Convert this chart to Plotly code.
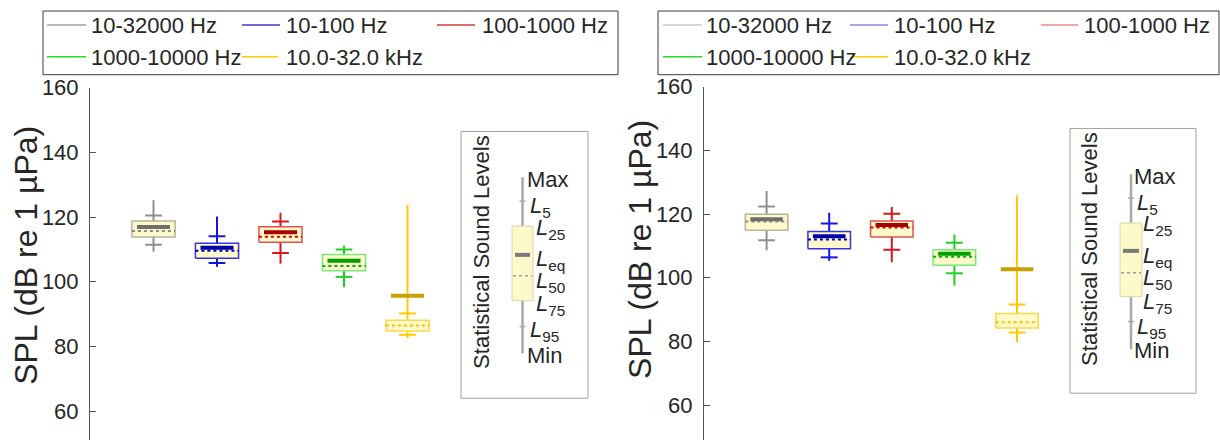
import plotly.graph_objects as go

W, H = 1220, 440

bands = ["10-32000 Hz", "10-100 Hz", "100-1000 Hz", "1000-10000 Hz", "10.0-32.0 kHz"]
positions = [1, 2, 3, 4, 5]

# Statistical sound levels per band (dB re 1 µPa), left panel
left_max = [125.2, 120.2, 121.3, 111.1, 123.9]
left_l5 = [120.5, 114.1, 118.6, 110.0, 90.2]
left_l25 = [118.8, 111.9, 117.0, 108.4, 88.1]
left_leq = [116.9, 110.5, 115.3, 106.5, 95.7]
left_l50 = [115.7, 109.6, 113.9, 104.9, 86.5]
left_l75 = [113.8, 107.3, 112.2, 103.4, 84.8]
left_l95 = [111.4, 105.8, 108.9, 101.5, 83.6]
left_min = [109.3, 104.6, 105.6, 98.3, 82.6]

# Right panel
right_max = [127.2, 120.4, 122.2, 113.6, 125.9]
right_l5 = [122.4, 117.0, 120.1, 111.0, 91.6]
right_l25 = [119.9, 114.5, 117.8, 108.8, 88.8]
right_leq = [118.4, 113.0, 116.6, 107.5, 102.7]
right_l50 = [117.7, 112.0, 115.8, 106.6, 86.0]
right_l75 = [114.9, 109.1, 112.8, 103.9, 84.2]
right_l95 = [111.8, 106.4, 108.8, 101.4, 82.8]
right_min = [108.6, 105.3, 104.9, 97.5, 79.8]

y_ticks = [60, 80, 100, 120, 140, 160]

# styling per band
edge_col = ["#b4b4a0", "#3535e6", "#e65050", "#7ae87a", "#ffd54a"]
whisk_col = ["#8f8f8f", "#1515e0", "#d81818", "#22cc22", "#ffc800"]
leq_col = ["#6e6e6e", "#0000a8", "#a80000", "#00a000", "#c9a000"]
med_col = ["#8a8a8a", "#0000c8", "#d00000", "#00b400", "#f2c200"]
leg_left_col = ["#a0a0a0", "#3a3ad0", "#d03a3a", "#22dd22", "#ffcc00"]
leg_right_col = ["#c8c8c8", "#8888e6", "#e68888", "#22dd22", "#ffcc00"]
box_fill = "#fdf9c8"
FONT = "Liberation Sans, Arial, Helvetica, sans-serif"
TXT = "#262626"

BOX_HW = 0.34
LEQ_HW = 0.26

# pixel -> paper helpers (paper space spans TOP_INSET..H vertically)
TOP_INSET = 10


def px(x):
    return x / W


def py(y):
    return (H - y) / (H - TOP_INSET)


fig = go.Figure()


def add_panel(xa, ya, vmax, v5, v25, veq, v50, v75, v95, vmin):
    for i, p in enumerate(positions):
        common = dict(xaxis=xa, yaxis=ya, showlegend=False, hoverinfo="skip")
        fig.add_trace(go.Scatter(x=[p, p], y=[vmin[i], vmax[i]], mode="lines",
                                 line=dict(color=whisk_col[i], width=2), **common))
        fig.add_trace(go.Scatter(
            x=[p - BOX_HW, p + BOX_HW, p + BOX_HW, p - BOX_HW, p - BOX_HW],
            y=[v75[i], v75[i], v25[i], v25[i], v75[i]],
            mode="lines", fill="toself", fillcolor=box_fill,
            line=dict(color=edge_col[i], width=1.5), **common))
        fig.add_trace(go.Scatter(x=[p - BOX_HW, p + BOX_HW], y=[v50[i], v50[i]], mode="lines",
                                 line=dict(color=med_col[i], width=2, dash="dot"), **common))
        fig.add_trace(go.Scatter(x=[p - LEQ_HW, p + LEQ_HW], y=[veq[i], veq[i]], mode="lines",
                                 line=dict(color=leq_col[i], width=4), **common))
        fig.add_trace(go.Scatter(x=[p, p], y=[v5[i], v95[i]], mode="markers",
                                 marker=dict(symbol="line-ew", size=12,
                                             line=dict(color=whisk_col[i], width=2)),
                                 **common))


add_panel("x", "y", left_max, left_l5, left_l25, left_leq, left_l50, left_l75, left_l95, left_min)
add_panel("x2", "y2", right_max, right_l5, right_l25, right_leq, right_l50, right_l75, right_l95, right_min)

axis_common = dict(showgrid=False, zeroline=False)
yax_common = dict(showgrid=False, zeroline=False, showline=True, linecolor="#555555", linewidth=1,
                  ticks="inside", ticklen=6, tickcolor="#555555", tickvals=y_ticks,
                  tickfont=dict(family=FONT, size=22, color=TXT), ticklabelstandoff=6)

fig.update_layout(
    width=W, height=H,
    margin=dict(l=0, r=0, t=0, b=0),
    paper_bgcolor="white", plot_bgcolor="white",
    showlegend=False,
    xaxis=dict(domain=[px(90), px(600)], range=[0, 510 / 63.5], visible=False, **axis_common),
    yaxis=dict(domain=[0, py(86)], range=[160 - 354 / 3.25, 160], anchor="x", **yax_common),
    xaxis2=dict(domain=[px(704), px(1220)], range=[0, 516 / 62.6], visible=False, anchor="y2",
                **axis_common),
    yaxis2=dict(domain=[0, py(85)], range=[160 - 355 / 3.2, 160], anchor="x2", **yax_common),
)

shapes = []
annotations = []

# y-axis titles
for xc, yc in [(26, 255), (640, 249)]:
    annotations.append(dict(xref="paper", yref="paper", x=px(xc), y=py(yc), text="SPL (dB re 1 µPa)",
                            textangle=-90, showarrow=False, xanchor="center", yanchor="middle",
                            font=dict(family=FONT, size=32, color=TXT)))


# legend frames with entries
def add_legend(box, lines, texts, cols):
    x0, y0, x1, y1 = box
    shapes.append(dict(type="rect", xref="paper", yref="paper", x0=px(x0), x1=px(x1),
                       y0=py(y1), y1=py(y0), line=dict(color="#3c3c3c", width=1),
                       fillcolor="white"))
    for i, name in enumerate(bands):
        (lx0, lx1, ly) = lines[i]
        shapes.append(dict(type="line", xref="paper", yref="paper", x0=px(lx0), x1=px(lx1),
                           y0=py(ly), y1=py(ly), line=dict(color=cols[i], width=1.5)))
        tx, ty = texts[i]
        annotations.append(dict(xref="paper", yref="paper", x=px(tx), y=py(ty), text=name,
                                showarrow=False, xanchor="left", yanchor="middle",
                                font=dict(family=FONT, size=22, color=TXT)))


add_legend((43, 9, 618, 73),
           [(47, 86, 23), (242, 280, 23), (437, 475, 23), (47, 86, 55), (242, 278, 55)],
           [(89, 24), (284, 24), (480, 24), (89, 56), (284, 56)],
           leg_left_col)
add_legend((658, 9, 1219, 73),
           [(663, 702, 23), (850, 888, 23), (1041, 1078, 23), (663, 702, 55), (852, 888, 55)],
           [(704, 24), (892, 24), (1082, 24), (704, 56), (892, 56)],
           leg_right_col)


# key panel explaining the statistical levels
def add_key(frame, tx, ty, wx, wtop, wbot, bx0, bx1, b25, b75, leq, l50, l5, l95, labels):
    fx0, fy0, fx1, fy1 = frame
    shapes.append(dict(type="rect", xref="paper", yref="paper", x0=px(fx0), x1=px(fx1),
                       y0=py(fy1), y1=py(fy0), line=dict(color="#a0a0a0", width=1)))
    annotations.append(dict(xref="paper", yref="paper", x=px(tx), y=py(ty),
                            text="Statistical Sound Levels", textangle=-90, showarrow=False,
                            xanchor="center", yanchor="middle",
                            font=dict(family=FONT, size=22, color=TXT)))
    shapes.append(dict(type="line", xref="paper", yref="paper", x0=px(wx), x1=px(wx),
                       y0=py(wbot), y1=py(wtop), line=dict(color="#a8a8a8", width=2.5)))
    for yy in (l5, l95):
        shapes.append(dict(type="line", xref="paper", yref="paper", x0=px(wx - 3), x1=px(wx + 3),
                           y0=py(yy), y1=py(yy), line=dict(color="#a8a8a8", width=1.5)))
    shapes.append(dict(type="rect", xref="paper", yref="paper", x0=px(bx0), x1=px(bx1),
                       y0=py(b75), y1=py(b25), fillcolor=box_fill,
                       line=dict(color="#d8d4b0", width=1)))
    shapes.append(dict(type="line", xref="paper", yref="paper", x0=px(bx0 + 3), x1=px(bx1 - 3),
                       y0=py(leq), y1=py(leq), line=dict(color="#7a7a7a", width=4)))
    shapes.append(dict(type="line", xref="paper", yref="paper", x0=px(bx0 + 1), x1=px(bx1 - 1),
                       y0=py(l50), y1=py(l50), line=dict(color="#9a9a9a", width=1.5, dash="dot")))
    for text, lx, ly in labels:
        annotations.append(dict(xref="paper", yref="paper", x=px(lx), y=py(ly), text=text,
                                showarrow=False, xanchor="left", yanchor="middle",
                                font=dict(family=FONT, size=22, color=TXT)))


def key_labels(x_max, x_l5, x_l25, ys):
    names = ["Max", "<i>L</i><sub>5</sub>", "<i>L</i><sub>25</sub>", "<i>L</i><sub>eq</sub>",
             "<i>L</i><sub>50</sub>", "<i>L</i><sub>75</sub>", "<i>L</i><sub>95</sub>", "Min"]
    xs = [x_max, x_l5, x_l25, x_l25, x_l25, x_l25, x_l5, x_max]
    return list(zip(names, xs, ys))


add_key((461, 130, 588, 398), 482, 251, 522.5, 176, 353, 512, 533, 225, 300, 254, 275, 200, 326,
        key_labels(525, 528, 534, [178, 206, 228, 259, 281, 304, 330, 355]))
add_key((1070, 127, 1196, 393), 1090, 248, 1131, 173, 349, 1120, 1142, 222, 296, 250, 272, 197, 321,
        key_labels(1132, 1135, 1141, [175, 203, 224, 256, 278, 302, 327, 350]))

fig.update_layout(shapes=shapes, annotations=annotations)

fig.write_html("out.html")
